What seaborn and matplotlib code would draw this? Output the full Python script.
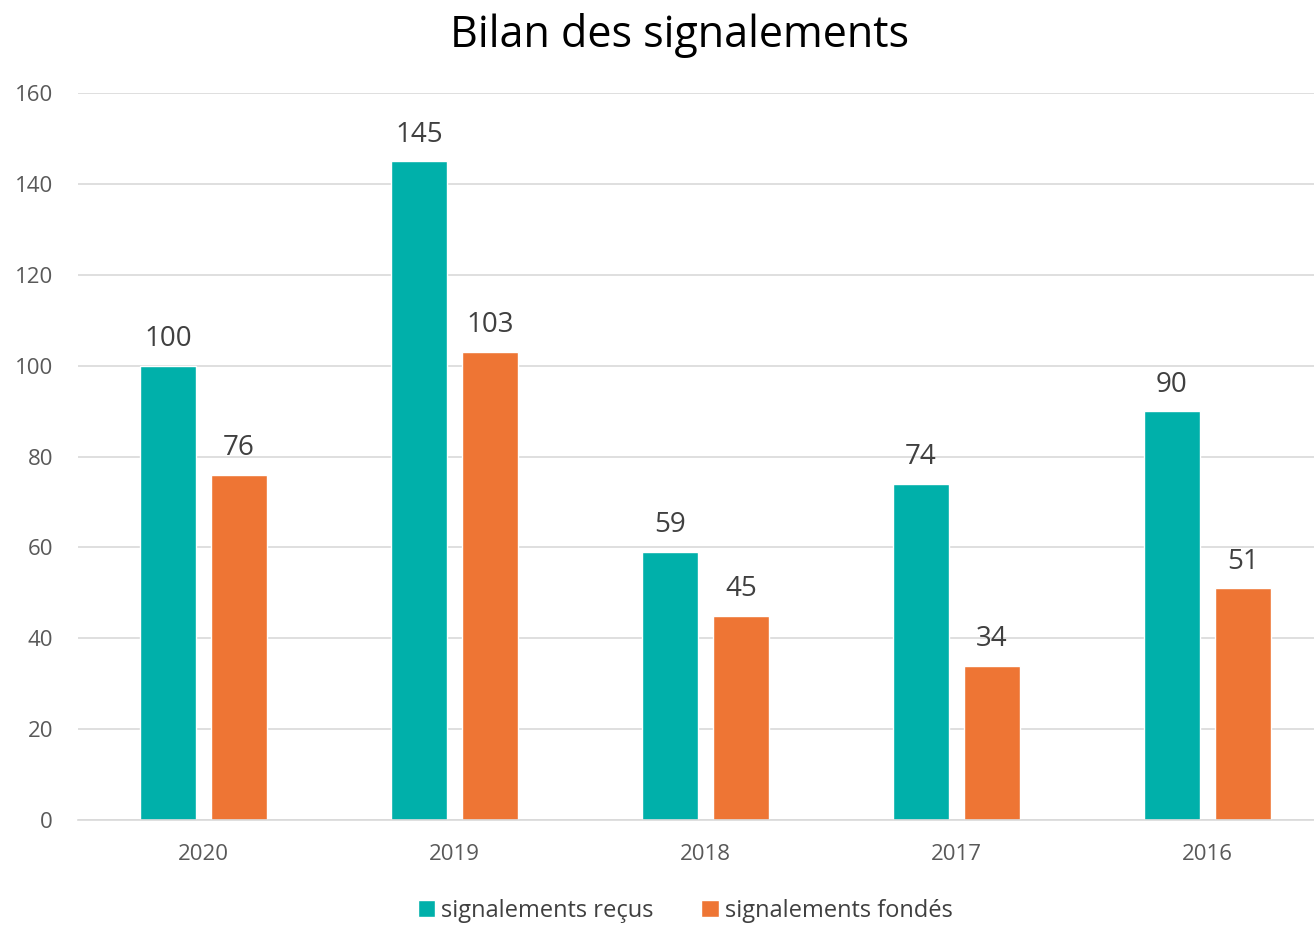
import matplotlib.pyplot as plt
import seaborn as sns
import pandas as pd

years = ["2020", "2019", "2018", "2017", "2016"]
recus = [100, 145, 59, 74, 90]
fondes = [76, 103, 45, 34, 51]
series = ["signalements reçus", "signalements fondés"]
colors = ["#00B0AA", "#EE7534"]

df = pd.DataFrame({
    "annee": years * 2,
    "valeur": recus + fondes,
    "serie": [series[0]] * len(years) + [series[1]] * len(years),
})

sns.set_style("white")
plt.rcParams["font.family"] = ["Open Sans", "DejaVu Sans"]

fig = plt.figure(figsize=(13.14, 9.25), dpi=100)
ax = fig.add_axes([78 / 1314, 105 / 925, 1255 / 1314, 727 / 925])

sns.barplot(data=df, x="annee", y="valeur", hue="serie", palette=colors,
            width=0.566, gap=0.21, ax=ax, saturation=1)

for c in ax.containers:
    ax.bar_label(c, padding=9, fontsize=20, color="#404040")

ax.set_ylim(0, 160)
ax.set_yticks(range(0, 161, 20))
ax.yaxis.grid(True, color="#D9D9D9", linewidth=1.2)
ax.set_axisbelow(True)
for s in ["top", "right", "left"]:
    ax.spines[s].set_visible(False)
ax.spines["bottom"].set_color("#D9D9D9")
ax.spines["bottom"].set_linewidth(1.2)
ax.tick_params(axis="both", length=0, labelsize=16, colors="#595959")
ax.tick_params(axis="y", pad=18)
ax.tick_params(axis="x", pad=17)
ax.set_xlabel("")
ax.set_ylabel("")

fig.text(679 / 1314, 1 - 36 / 925, "Bilan des signalements", fontsize=31,
         ha="center", va="center", color="#000000")

ax.legend_.remove()
handles, labels = ax.get_legend_handles_labels()
fig.legend(handles, labels, loc="center", bbox_to_anchor=(685 / 1314, 1 - 911 / 925),
           ncol=2, frameon=False, fontsize=17, handlelength=0.75, handleheight=0.75,
           handletextpad=0.25, columnspacing=2.0, labelcolor="#404040")

fig.savefig("out.png", dpi=100)
